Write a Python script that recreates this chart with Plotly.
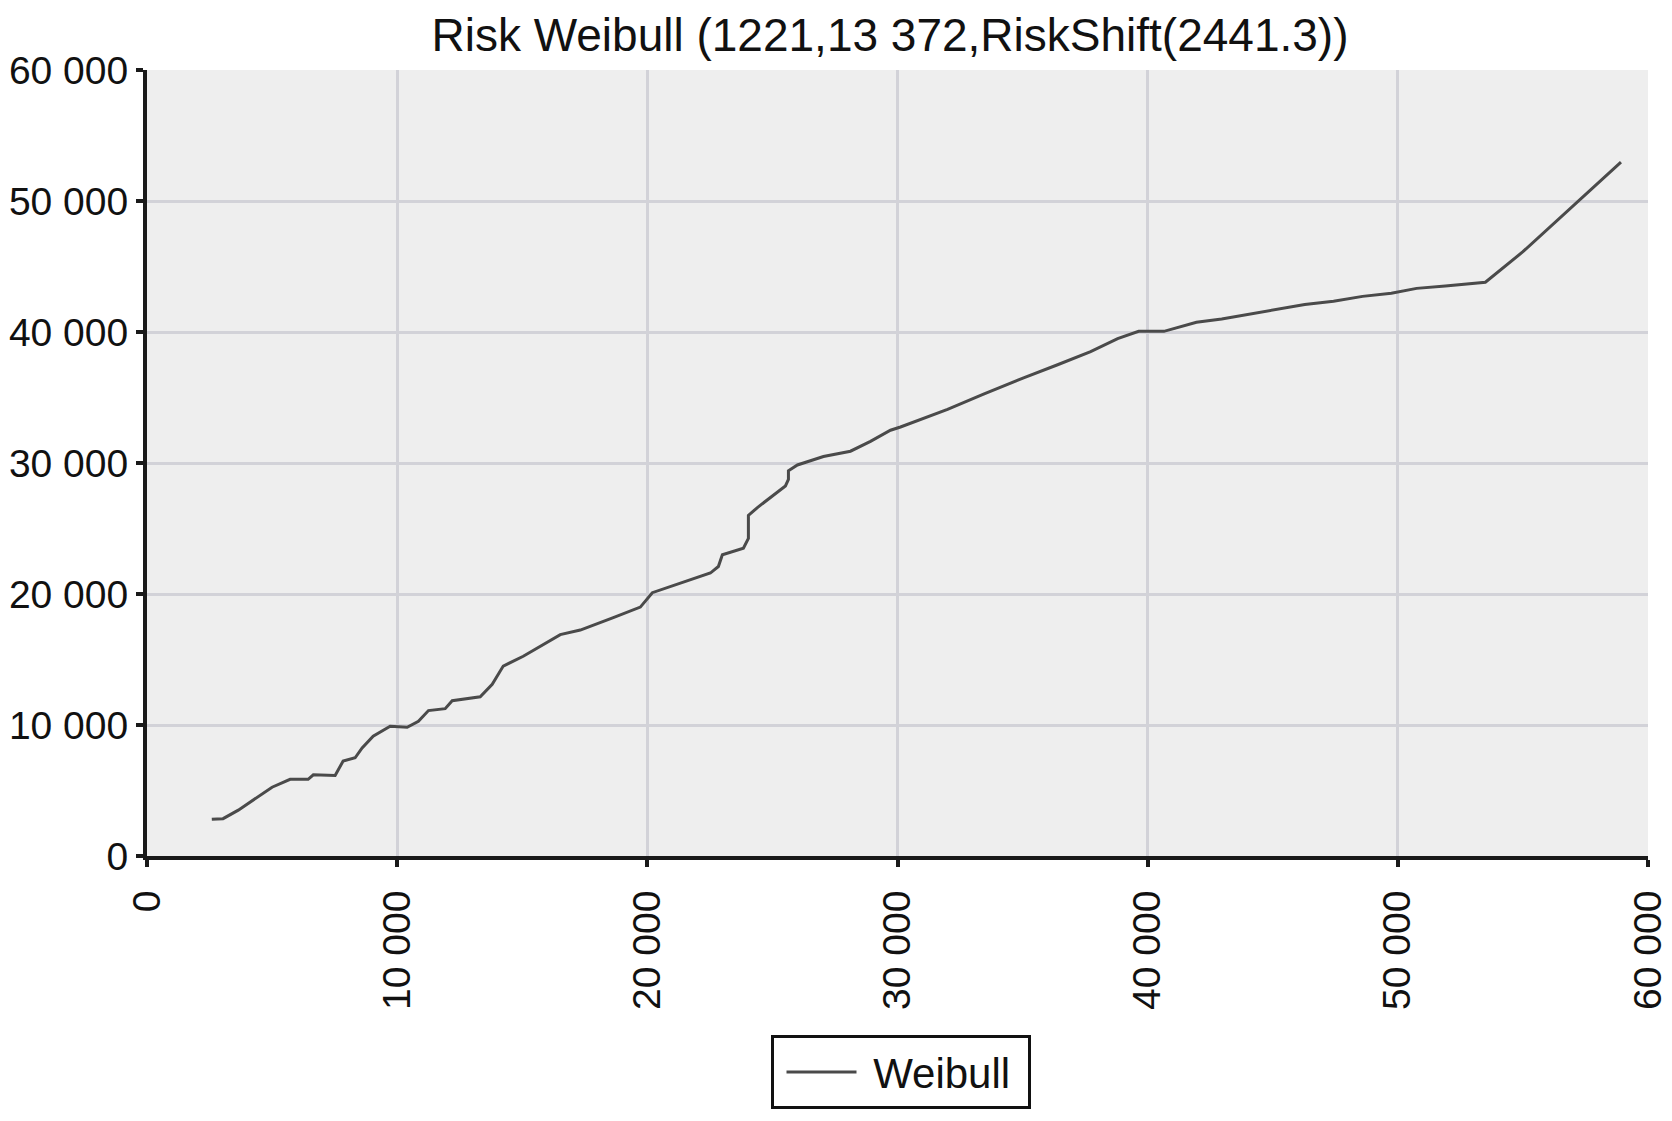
import plotly.graph_objects as go

# Data
x_vals = [2590, 3040, 3650, 4400, 5000, 5720, 6440, 6650, 7520, 7840, 8320, 8600,
          9040, 9720, 10400, 10850, 11250, 11920, 12200, 13320, 13800, 14240, 15040,
          16520, 17320, 18640, 19720, 20200, 20800, 22520, 22840, 23000, 23840, 24040,
          24040, 24400, 25520, 25640, 25640, 26000, 27040, 28120, 28920, 29720, 30120,
          32000, 33440, 35040, 36400, 37720, 38800, 39640, 40650, 41950, 42960, 44110,
          45270, 46280, 47430, 48590, 49740, 50750, 51900, 53200, 53500, 55000, 58920]
y_vals = [2800, 2850, 3500, 4500, 5250, 5850, 5850, 6200, 6150, 7250, 7500, 8250,
          9150, 9900, 9830, 10280, 11100, 11250, 11850, 12150, 13100, 14500, 15250,
          16900, 17250, 18200, 19000, 20100, 20500, 21600, 22100, 23000, 23500, 24250,
          26000, 26600, 28250, 28750, 29400, 29850, 30500, 30900, 31650, 32500, 32750,
          34100, 35250, 36500, 37500, 38500, 39500, 40050, 40050, 40740, 40990, 41360,
          41730, 42100, 42350, 42720, 42960, 43330, 43510, 43750, 43800, 46130, 52970]

tick_vals = [0, 10000, 20000, 30000, 40000, 50000, 60000]
tick_text = ["0", "10 000", "20 000", "30 000", "40 000", "50 000", "60 000"]

series_name = "Weibull"
title_text = "Risk Weibull (1221,13 372,RiskShift(2441.3))"

FONT = "Liberation Sans, Arial, Helvetica, sans-serif"

# the page body adds an 8 px offset, so the figure is 8 px smaller on each axis
FIG_W, FIG_H = 1664, 1113

fig = go.Figure()
fig.add_trace(go.Scatter(
    x=x_vals, y=y_vals, mode="lines",
    name="\u00a0" + series_name + "\u00a0",
    line=dict(color="#4a4a4a", width=3),
))

axis_common = dict(
    range=[0, 60000],
    tickvals=tick_vals,
    ticktext=tick_text,
    showgrid=True,
    gridcolor="#d2d2d8",
    gridwidth=3,
    zeroline=False,
    showline=True,
    linecolor="#1a1a1a",
    linewidth=4,
    ticks="outside",
    ticklen=7,
    tickwidth=4,
    tickcolor="#1a1a1a",
    automargin=False,
    tickfont=dict(family=FONT, size=39, color="#111111"),
)

fig.update_xaxes(**axis_common, tickangle=-90, ticklabelstandoff=8)
fig.update_yaxes(**axis_common, ticklabelstandoff=0)

fig.update_layout(
    width=FIG_W, height=FIG_H,
    margin=dict(l=139, r=24, t=62, b=249),
    paper_bgcolor="white",
    plot_bgcolor="#eeeeee",
    title=dict(text=title_text, x=0.495, xref="paper", y=1 - 27 / FIG_H,
               yref="container", xanchor="center", yanchor="middle",
               automargin=False,
               font=dict(family=FONT, size=46, color="#111111")),
    showlegend=True,
    legend=dict(
        x=0.502, xanchor="center", xref="paper",
        y=-0.228, yanchor="top", yref="paper",
        orientation="h",
        bordercolor="#111111", borderwidth=3,
        bgcolor="white",
        itemwidth=70,
        indentation=8,
        font=dict(family=FONT, size=42, color="#111111"),
    ),
)

fig.write_html("out.html")
